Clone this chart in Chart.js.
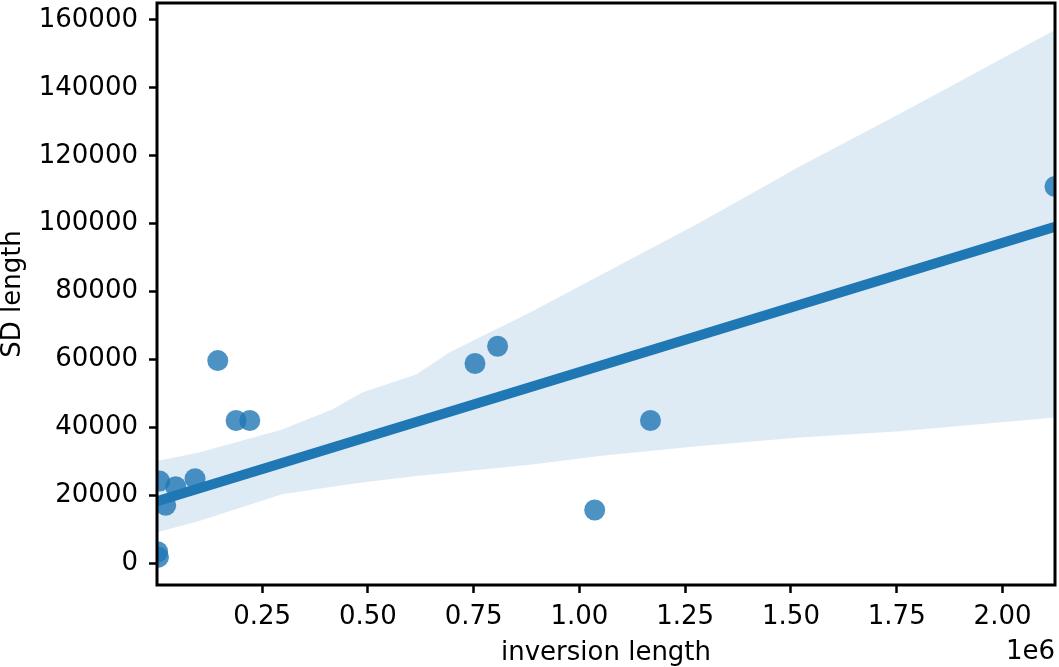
<!DOCTYPE html>
<html>
<head>
<meta charset="utf-8">
<script src="https://cdn.jsdelivr.net/npm/chart.js@4"></script>
<style>
  body { margin: 0; background: #fff; }
  canvas { display: block; }
</style>
</head>
<body>
<canvas id="chart1" width="1059" height="667"></canvas>
<script>
// scatter points (inversion length, SD length)
const invLength = [2124000, 145200, 188500, 220900, 753200, 806600, 1167900, 1036100,
    91500, 45800, 22200, 8000, 3000, 5000];
const sdLength = [110970, 59700, 42060, 42060, 58820, 63910, 42060, 15680,
    24910, 22560, 17060, 24200, 3400, 1800];

// fitted regression line
const fitX = [1600, 2124000];
const fitY = [18300, 99100];

// confidence band
const bandX = [1600, 101000, 297300, 415600, 486600, 614300, 692400, 888800,
    1047200, 1283800, 1520400, 1757000, 2124000];
const bandUpper = [30090, 32650, 39410, 45290, 50290, 55590, 62060, 74210,
    84710, 100290, 116850, 132350, 157060];
const bandLower = [9120, 12440, 20290, 22500, 23820, 25710, 26680, 29120,
    31560, 34500, 37060, 38910, 42940];

const xTicks = [250000, 500000, 750000, 1000000, 1250000, 1500000, 1750000, 2000000];
const yTicks = [0, 20000, 40000, 60000, 80000, 100000, 120000, 140000, 160000];

const blue = 'rgb(31,119,180)';
const font = { family: '"DejaVu Sans", sans-serif', size: 26 };

const toPoints = (xs, ys) => xs.map((x, i) => ({ x: x, y: ys[i] }));

// box around the plot + the "1e6" offset text
const frame = {
    id: 'frame',
    afterDraw(chart) {
        const a = chart.chartArea;
        const c = chart.ctx;
        c.save();
        c.strokeStyle = '#000';
        c.lineWidth = 3;
        c.strokeRect(a.left, a.top, a.right - a.left, a.bottom - a.top);
        c.fillStyle = '#000';
        c.font = '26px "DejaVu Sans", sans-serif';
        c.textAlign = 'right';
        c.textBaseline = 'middle';
        c.fillText('1e6', a.right, a.bottom + 67);
        c.restore();
    }
};

const ctx1 = document.getElementById('chart1');
const myChart = new Chart(ctx1, {
    type: 'scatter',
    data: {
        datasets: [
            {
                data: toPoints(invLength, sdLength),
                backgroundColor: 'rgba(31,119,180,0.8)',
                borderWidth: 0,
                pointRadius: 10.5,
                clip: 0,
                order: 3
            },
            {
                type: 'line',
                data: toPoints(bandX, bandLower),
                borderWidth: 0,
                borderColor: 'rgba(0,0,0,0)',
                pointRadius: 0,
                fill: false,
                clip: 0,
                order: 2
            },
            {
                type: 'line',
                data: toPoints(bandX, bandUpper),
                borderWidth: 0,
                borderColor: 'rgba(0,0,0,0)',
                backgroundColor: 'rgba(31,119,180,0.15)',
                pointRadius: 0,
                fill: '-1',
                clip: 0,
                order: 2
            },
            {
                type: 'line',
                data: toPoints(fitX, fitY),
                borderColor: blue,
                borderWidth: 10,
                pointRadius: 0,
                fill: false,
                clip: 0,
                order: 1
            }
        ]
    },
    options: {
        responsive: false,
        animation: false,
        layout: {
            autoPadding: false,
            padding: { top: 3, right: 4, left: 0, bottom: 0 }
        },
        scales: {
            x: {
                type: 'linear',
                min: 1600,
                max: 2124000,
                afterBuildTicks: s => { s.ticks = xTicks.map(v => ({ value: v })); },
                afterFit: s => {
                    s.height = 82;
                    s.paddingLeft = 0;
                    s.paddingRight = 0;
                },
                border: { display: false },
                grid: {
                    drawOnChartArea: false,
                    tickLength: 8,
                    tickWidth: 2.5,
                    tickColor: '#000'
                },
                ticks: {
                    color: '#000',
                    font: font,
                    padding: 9,
                    maxRotation: 0,
                    callback: v => (v / 1e6).toFixed(2)
                },
                title: {
                    display: true,
                    text: 'inversion length',
                    color: '#000',
                    font: { family: font.family, size: 26, lineHeight: 1 },
                    padding: { top: 0, bottom: 1 }
                }
            },
            y: {
                min: -6400,
                max: 165000,
                afterBuildTicks: s => { s.ticks = yTicks.map(v => ({ value: v })); },
                afterFit: s => {
                    s.width = 157;
                    s.paddingTop = 0;
                    s.paddingBottom = 0;
                },
                border: { display: false },
                grid: {
                    drawOnChartArea: false,
                    tickLength: 8,
                    tickWidth: 2.5,
                    tickColor: '#000'
                },
                ticks: {
                    color: '#000',
                    font: font,
                    padding: 11,
                    callback: v => String(v)
                },
                title: {
                    display: true,
                    text: 'SD length',
                    color: '#000',
                    font: { family: font.family, size: 26, lineHeight: 1 },
                    padding: { top: 0, bottom: 0 }
                }
            }
        },
        plugins: {
            legend: { display: false },
            tooltip: { enabled: false }
        }
    },
    plugins: [frame]
});
</script>
</body>
</html>
